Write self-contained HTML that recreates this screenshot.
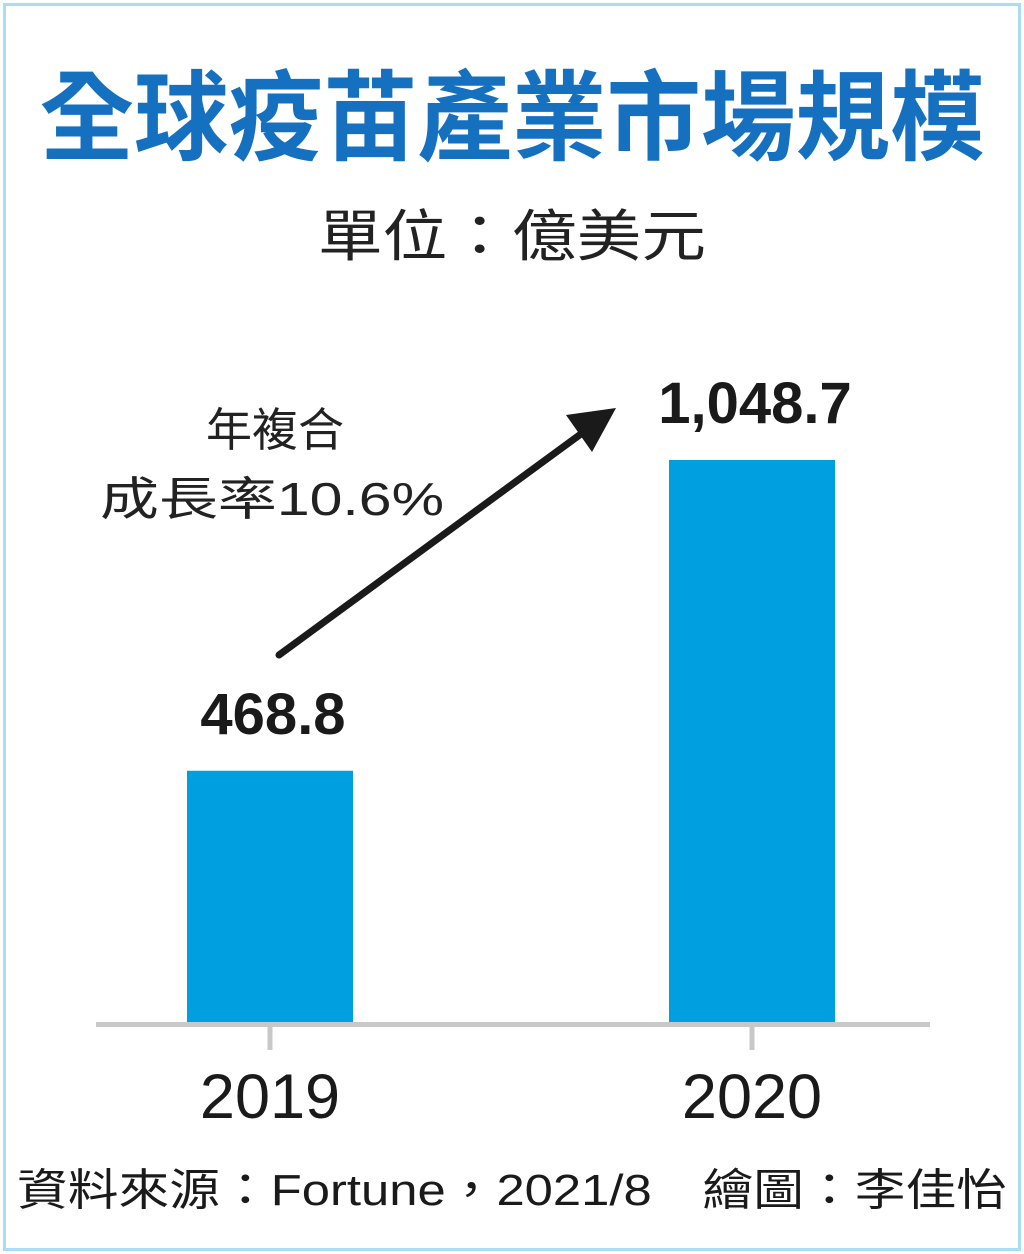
<!DOCTYPE html>
<html><head><meta charset="utf-8"><style>
html,body{margin:0;padding:0;background:#fff}
#wrap{position:relative;width:1024px;height:1254px;overflow:hidden}
svg text{font-family:"Liberation Sans","Noto Sans CJK TC",sans-serif}
</style></head><body>
<div id="wrap">
<svg id="chart" width="1024" height="1254" viewBox="0 0 1024 1254">
<rect x="4.5" y="4.5" width="1015" height="1245" fill="none" stroke="#a9dcf5" stroke-width="3"/>
<text x="512" y="152" text-anchor="middle" font-size="98" font-weight="bold" fill="#1570c0" textLength="945" lengthAdjust="spacingAndGlyphs">全球疫苗產業市場規模</text>
<text x="512" y="256" text-anchor="middle" font-size="56" fill="#222" textLength="388" lengthAdjust="spacingAndGlyphs">單位：億美元</text>
<text x="275" y="446" text-anchor="middle" font-size="46" fill="#222">年複合</text>
<text x="272" y="515" text-anchor="middle" font-size="46" fill="#222" textLength="344" lengthAdjust="spacingAndGlyphs">成長率10.6%</text>
<line x1="279" y1="655" x2="585" y2="431" stroke="#1a1a1a" stroke-width="7" stroke-linecap="round"/>
<polygon points="616,408 566,415 592,452" fill="#1a1a1a"/>
<g id="bars"></g>
<line x1="96" y1="1024.5" x2="930" y2="1024.5" stroke="#c8c8c8" stroke-width="5"/>
<text x="512" y="1205" text-anchor="middle" font-size="44" fill="#1a1a1a" textLength="990" lengthAdjust="spacingAndGlyphs">資料來源：Fortune，2021/8　繪圖：李佳怡</text>
</svg>
</div>
<script>
const categories = ["2019", "2020"];
const values = [468.8, 1048.7];
const valueLabels = ["468.8", "1,048.7"];
const NS = "http://www.w3.org/2000/svg";
const base = 1022, plotH = 562, maxV = 1048.7;
function yScale(v){ return base - v / maxV * plotH; }
function xCenter(i){ return 270 + i * 482; }
const g = document.getElementById("bars");
categories.forEach((c, i) => {
  const v = values[i], cx = xCenter(i), y = yScale(v);
  const r = document.createElementNS(NS, "rect");
  r.setAttribute("x", cx - 83); r.setAttribute("y", y);
  r.setAttribute("width", 166); r.setAttribute("height", base - y);
  r.setAttribute("fill", "#00a0e0");
  
  
  g.appendChild(r);
  const t = document.createElementNS(NS, "line");
  t.setAttribute("x1", cx); t.setAttribute("x2", cx);
  t.setAttribute("y1", 1024); t.setAttribute("y2", 1050);
  t.setAttribute("stroke", "#c8c8c8"); t.setAttribute("stroke-width", 5);
  
  
  g.appendChild(t);
  const lab = document.createElementNS(NS, "text");
  lab.setAttribute("x", cx); lab.setAttribute("y", 1118);
  lab.setAttribute("text-anchor", "middle"); lab.setAttribute("font-size", 63);
  lab.setAttribute("fill", "#1a1a1a");
  lab.textContent = c;
  
  
  g.appendChild(lab);
  const vl = document.createElementNS(NS, "text");
  vl.setAttribute("x", cx + 3); vl.setAttribute("y", y - 37);
  vl.setAttribute("text-anchor", "middle"); vl.setAttribute("font-size", 58);
  vl.setAttribute("font-weight", "bold"); vl.setAttribute("fill", "#1a1a1a");
  vl.textContent = valueLabels[i];
  
  
  g.appendChild(vl);
});
</script>
</body></html>
